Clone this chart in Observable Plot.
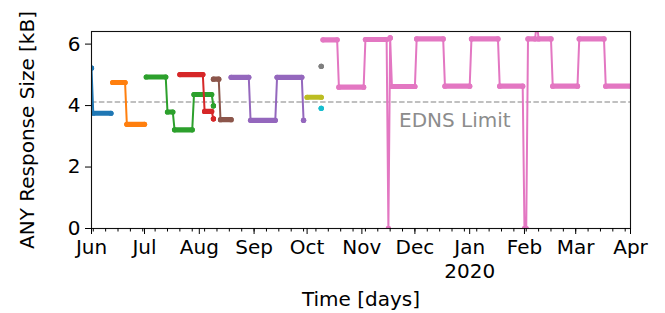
<!DOCTYPE html>
<html>
<head>
<meta charset="utf-8">
<script src="https://cdn.jsdelivr.net/npm/d3@7"></script>
<script src="https://cdn.jsdelivr.net/npm/@observablehq/plot@0.6"></script>
<style>
  html, body { margin: 0; padding: 0; background: #fff; }
  #chart svg { display: block; }
</style>
</head>
<body>
<div id="chart"></div>
<script>
// Each run: [start date, end date, value in kB]  (daily values that stay flat over the run)
const seriesBlue   = [["2019-06-01","2019-06-01",5.22],["2019-06-02","2019-06-12",3.75]];
const seriesOrange = [["2019-06-13","2019-06-20",4.75],["2019-06-21","2019-07-01",3.39]];
const seriesGreen  = [["2019-07-02","2019-07-13",4.93],["2019-07-14","2019-07-17",3.79],["2019-07-18","2019-07-28",3.21],["2019-07-29","2019-08-08",4.36],["2019-08-09","2019-08-09",3.99]];
const seriesRed    = [["2019-07-21","2019-08-03",5.01],["2019-08-04","2019-08-08",3.81],["2019-08-09","2019-08-09",3.57]];
const seriesPurple = [["2019-08-19","2019-08-29",4.92],["2019-08-30","2019-09-13",3.52],["2019-09-14","2019-09-28",4.92],["2019-09-29","2019-09-29",3.52]];
const seriesBrown  = [["2019-08-09","2019-08-12",4.86],["2019-08-13","2019-08-19",3.54]];
const seriesPink   = [["2019-10-10","2019-10-18",6.14],["2019-10-19","2019-11-02",4.60],["2019-11-03","2019-11-15",6.15],["2019-11-16","2019-11-16",0],["2019-11-17","2019-11-17",6.20],["2019-11-18","2019-12-01",4.62],["2019-12-02","2019-12-17",6.17],["2019-12-18","2020-01-01",4.63],["2020-01-02","2020-01-17",6.17],["2020-01-18","2020-01-31",4.63],["2020-02-01","2020-02-02",0],["2020-02-03","2020-02-07",6.17],["2020-02-08","2020-02-08",6.70],["2020-02-09","2020-02-16",6.17],["2020-02-17","2020-03-02",4.63],["2020-03-03","2020-03-17",6.17],["2020-03-18","2020-04-01",4.63]];
const seriesGray   = [["2019-10-09","2019-10-09",5.28]];
const seriesOlive  = [["2019-10-01","2019-10-09",4.27]];
const seriesCyan   = [["2019-10-09","2019-10-09",3.91]];

const seriesColors = ["#1f77b4","#ff7f0e","#2ca02c","#d62728","#9467bd","#8c564b","#e377c2","#7f7f7f","#bcbd22","#17becf"];
const seriesList = [seriesBlue, seriesOrange, seriesGreen, seriesRed, seriesPurple, seriesBrown, seriesPink, seriesGray, seriesOlive, seriesCyan];

const ednsLimit = 4.12;
const ednsLabel = ["EDNS Limit"];
const ednsLabelPos = {date: "2019-11-22", value: 3.5};
const yTicks = [0, 2, 4, 6];
const xDomain = ["2019-06-01", "2020-04-01"];
const yearLabels = [{date: "2020-01-01", label: "2020"}];
const xLabel = "Time [days]";
const yLabel = "ANY Response Size [kB]";

const parse = d3.utcParse("%Y-%m-%d");
const x0 = parse(xDomain[0]), x1 = parse(xDomain[1]);
const monthTicks = d3.utcMonth.range(x0, d3.utcDay.offset(x1, 1));
const weekTicks = d3.utcSunday.range(x0, x1);

const marks = [];
marks.push(Plot.ruleY([ednsLimit], {stroke: "#acacac", strokeWidth: 1.5, strokeDasharray: "5.5,2.4"}));
marks.push(Plot.text(ednsLabel, {x: () => parse(ednsLabelPos.date), y: () => ednsLabelPos.value, text: d => d, textAnchor: "start", fill: "#8c8c8c", fontSize: 20}));

seriesList.forEach((runs, i) => {
  const color = seriesColors[i];
  const rows = runs.map(([s, e, v]) => ({s: parse(s), e: parse(e), v}));
  const pts = rows.flatMap(r => [{d: r.s, v: r.v}, {d: r.e, v: r.v}]);
  marks.push(Plot.line(pts, {x: "d", y: "v", stroke: color, strokeWidth: 2, clip: true}));
  marks.push(Plot.link(rows, {x1: "s", x2: "e", y1: "v", y2: "v", stroke: color, strokeWidth: 5.2, strokeLinecap: "round", clip: true}));
  marks.push(Plot.dot(pts, {x: "d", y: "v", r: 2.6, fill: color, stroke: "none", clip: true}));
});

marks.push(Plot.frame({stroke: "#111", strokeWidth: 1.1}));
marks.push(Plot.axisY({ticks: yTicks, tickSize: 6, tickPadding: 5, fontSize: 20, label: null, tickFormat: d => String(d)}));
marks.push(Plot.axisX({ticks: monthTicks, tickSize: 6, tickPadding: 5, fontSize: 20, label: null, tickFormat: d3.utcFormat("%b")}));
marks.push(Plot.axisX({ticks: weekTicks, tickSize: 3.5, tickFormat: () => "", label: null}));
marks.push(Plot.text(yearLabels, {x: d => parse(d.date), text: "label", frameAnchor: "bottom", dy: 43, fontSize: 20, lineAnchor: "middle"}));
marks.push(Plot.text([xLabel], {text: d => d, frameAnchor: "bottom", dy: 71, fontSize: 20, lineAnchor: "middle", textAnchor: "middle"}));
marks.push(Plot.text([yLabel], {text: d => d, frameAnchor: "left", dx: -64, rotate: -90, fontSize: 20, lineAnchor: "middle", textAnchor: "middle"}));

const chart = Plot.plot({
  width: 665,
  height: 313,
  marginLeft: 91,
  marginRight: 35,
  marginTop: 31,
  marginBottom: 85,
  style: {fontFamily: "DejaVu Sans", fontSize: "20px", color: "#000", background: "#fff", overflow: "visible"},
  x: {type: "utc", domain: [x0, x1], axis: null},
  y: {domain: [0, 6.41], axis: null},
  marks
});
document.getElementById("chart").appendChild(chart);
</script>
</body>
</html>
